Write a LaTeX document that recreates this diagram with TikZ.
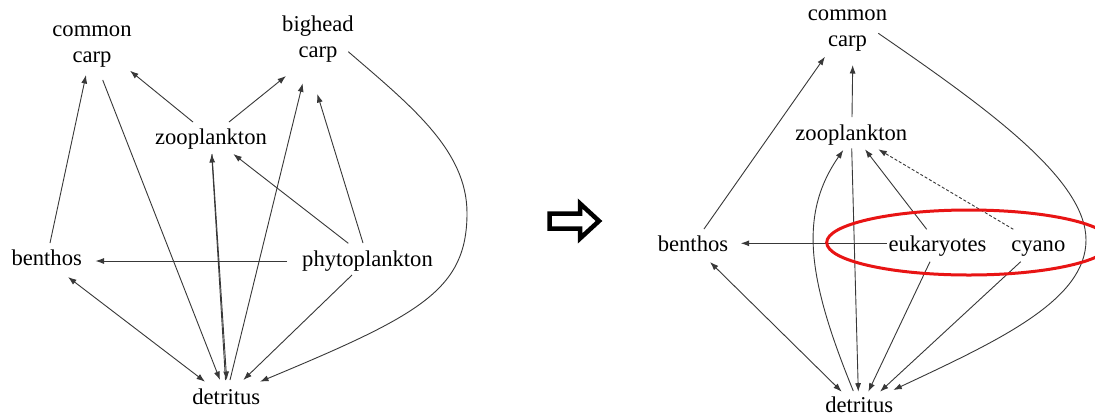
\documentclass[tikz,border=0pt]{standalone}
\usepackage{fontspec}
\setmainfont{Liberation Serif}
\usetikzlibrary{arrows.meta}
\definecolor{ringred}{RGB}{232,20,20}
\begin{document}
\begin{tikzpicture}[x=1pt,y=-1pt,
  lbl/.style={inner sep=0pt, font=\fontsize{22.6}{26}\selectfont, text height=18.2pt, text depth=7.8pt},
  lbltwo/.style={inner sep=0pt, font=\fontsize{22.6}{26}\selectfont},
  conn/.style={draw=black!78, line width=0.9pt, -{Latex[length=8.5pt,width=6pt]}},
  twoway/.style={draw=black!78, line width=0.9pt, {Latex[length=8.5pt,width=6pt]}-{Latex[length=8.5pt,width=6pt]}},
  weak/.style={conn, dash pattern=on 3pt off 2pt}
]
\useasboundingbox[fill=white] (0,0) rectangle (1095,416);

% ---------- food web before ----------
\node[lbltwo] (lcc)  at (92,44.5)    {\begin{tabular}{@{}c@{}}common\\carp\end{tabular}};
\node[lbltwo] (lbh)  at (318,39.5)   {\begin{tabular}{@{}c@{}}bighead\\carp\end{tabular}};
\node[lbl]    (lzoo) at (211,138.8)  {zooplankton};
\node[lbl]    (lben) at (46.7,260.5) {benthos};
\node[lbl]    (lphy) at (367.5,261.3){phytoplankton};
\node[lbl]    (ldet) at (226.3,398.8){detritus};

\draw[conn] ([shift={(3.3,-17.5)}]lben.center) -- ([shift={(-6,30.5)}]lcc.center);
\draw[conn] ([shift={(10.7,35.5)}]lcc.center) -- ([shift={(-6.3,-18.8)}]ldet.center);
\draw[conn] ([shift={(-18,-16.8)}]lzoo.center) -- ([shift={(38,26.2)}]lcc.center);
\draw[conn] ([shift={(18,-16.8)}]lzoo.center) -- ([shift={(-32,36.5)}]lbh.center);
\draw[conn] ([shift={(1,15.2)}]lzoo.center) -- ([shift={(0.4,-18.8)}]ldet.center);
\draw[conn] ([shift={(-0.8,-18.8)}]ldet.center) -- ([shift={(0.7,15.2)}]lzoo.center);
\draw[conn] ([shift={(3.7,-18.8)}]ldet.center) -- ([shift={(-15.3,43.8)}]lbh.center);
\draw[conn] ([shift={(-4.5,-18.3)}]lphy.center) -- ([shift={(-0.7,54.5)}]lbh.center);
\draw[conn] ([shift={(-19.2,-18)}]lphy.center) -- ([shift={(22.3,15.2)}]lzoo.center);
\draw[conn] ([shift={(-80.5,-0.3)}]lphy.center) -- ([shift={(48.8,0.5)}]lben.center);
\draw[conn] ([shift={(-15.5,13.7)}]lphy.center) -- ([shift={(17,-18.8)}]ldet.center);
\draw[twoway] ([shift={(21.3,16.5)}]lben.center) -- ([shift={(-21.3,-17.1)}]ldet.center);
\draw[conn] ([shift={(30.3,12.2)}]lbh.center)
  .. controls (410,105) and (467,150) .. (467,213)
  .. controls (467,290) and (420,315) .. ([shift={(33.7,-17.1)}]ldet.center);

% ---------- block arrow ----------
\draw[line width=4.5pt, line join=miter]
  (549.7,213.5) -- (580,213.5) -- (580,203.5) -- (599,221)
  -- (580,238.5) -- (580,228.5) -- (549.7,228.5) -- cycle;

% ---------- food web after ----------
\node[lbltwo] (rcc)  at (847.5,28.3)  {\begin{tabular}{@{}c@{}}common\\carp\end{tabular}};
\node[lbl]    (rzoo) at (851.3,135.3) {zooplankton};
\node[lbl]    (rben) at (693,246.5)   {benthos};
\node[lbl]    (reuk) at (937.5,246.5) {eukaryotes};
\node[lbl]    (rcy)  at (1038.3,246.5){cyano};
\node[lbl]    (rdet) at (859.2,406.8) {detritus};

\draw[conn] ([shift={(11,-17.5)}]rben.center) -- ([shift={(-22.5,28.4)}]rcc.center);
\draw[conn] ([shift={(0.7,-18.3)}]rzoo.center) -- ([shift={(5.2,36.7)}]rcc.center);
\draw[conn] ([shift={(30.8,5)}]rcc.center)
  .. controls (990,110) and (1086,180) .. (1086,240)
  .. controls (1086,300) and (1000,340) .. ([shift={(34.1,-16.8)}]rdet.center);
\draw[conn] ([shift={(0.4,13)}]rzoo.center) -- ([shift={(-0.9,-15.1)}]rdet.center);
\draw[conn] ([shift={(-5.9,-15.8)}]rdet.center)
  .. controls (808,280) and (798,215) .. ([shift={(-8,14.7)}]rzoo.center);
\draw[conn] ([shift={(-10.8,-17.2)}]reuk.center) -- ([shift={(13.7,14)}]rzoo.center);
\draw[weak] ([shift={(-25,-17.2)}]rcy.center) -- ([shift={(27,14)}]rzoo.center);
\draw[conn] ([shift={(-50.8,-3.2)}]reuk.center) -- ([shift={(47.7,-3.2)}]rben.center);
\draw[conn] ([shift={(-7.5,15.2)}]reuk.center) -- ([shift={(9.1,-15.1)}]rdet.center);
\draw[conn] ([shift={(-17.6,15.2)}]rcy.center) -- ([shift={(20.8,-15.1)}]rdet.center);
\draw[twoway] ([shift={(17,15.5)}]rben.center) -- ([shift={(-17.5,-15.1)}]rdet.center);

% ring around the split phytoplankton groups
\draw[ringred, line width=3pt] (968.9,242.5) ellipse [x radius=142.2, y radius=32.5];
\end{tikzpicture}
\end{document}
